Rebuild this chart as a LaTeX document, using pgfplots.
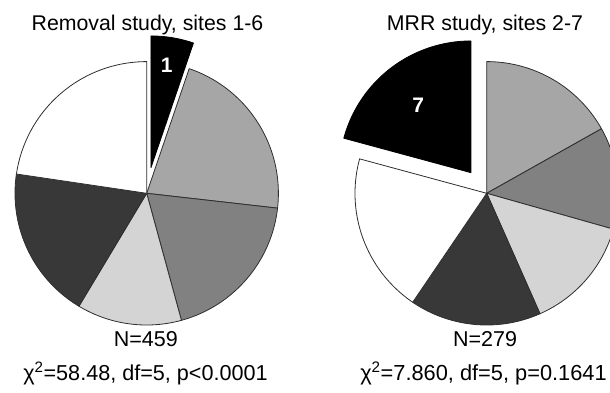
\documentclass[border=0pt]{standalone}
\usepackage{pgfplots}
\pgfplotsset{compat=1.18}
\usepackage{fontspec}
\setmainfont{Liberation Sans}

% shades for the sites
\definecolor{siteone}{HTML}{000000}
\definecolor{sitetwo}{HTML}{A6A6A6}
\definecolor{sitethree}{HTML}{818181}
\definecolor{sitefour}{HTML}{D4D4D4}
\definecolor{sitefive}{HTML}{383838}
\definecolor{sitesix}{HTML}{FFFFFF}
\definecolor{siteseven}{HTML}{000000}
\definecolor{edge}{HTML}{2E2E2E}

\newcommand{\R}{131.7}

% \slice{cx}{cy}{total}{count before}{count}{fill}{explode}{edge colour}
% slices run clockwise from 12 o'clock
\newcommand{\slice}[8]{%
  \pgfmathsetmacro\step{360/#3}%
  \pgfmathsetmacro\sa{90-\step*(#4+#5)}%
  \pgfmathsetmacro\sb{90-\step*#4}%
  \pgfmathsetmacro\sm{(\sa+\sb)/2}%
  \pgfmathsetmacro\ox{#1+#7*cos(\sm)}%
  \pgfmathsetmacro\oy{#2+#7*sin(\sm)}%
  \edef\doslice{\noexpand\addplot[fill=#6, draw=#8, line width=0.8pt,
      line join=round, domain=\sa:\sb, samples=90, variable=\noexpand\t]
    ({\ox+\R*cos(\noexpand\t)}, {\oy+\R*sin(\noexpand\t)})
    -- (axis cs:\ox,\oy) -- cycle;}%
  \doslice
}

\begin{document}
\begin{tikzpicture}
\begin{axis}[
  width=610pt, height=392pt, scale only axis,
  xmin=0, xmax=610, ymin=0, ymax=392,
  hide axis, clip=true,
]
% Removal study, sites 1-6 (N = 459)
\slice{146.7}{198.7}{459}{0}{24}{siteone}{26}{black}
\slice{146.7}{198.7}{459}{24}{99}{sitetwo}{0}{edge}
\slice{146.7}{198.7}{459}{123}{87}{sitethree}{0}{edge}
\slice{146.7}{198.7}{459}{210}{59}{sitefour}{0}{edge}
\slice{146.7}{198.7}{459}{269}{86}{sitefive}{0}{edge}
\slice{146.7}{198.7}{459}{355}{104}{sitesix}{0}{edge}

% MRR study, sites 2-7 (N = 279)
\slice{486.7}{198.7}{279}{0}{47}{sitetwo}{0}{edge}
\slice{486.7}{198.7}{279}{47}{35}{sitethree}{0}{edge}
\slice{486.7}{198.7}{279}{82}{39}{sitefour}{0}{edge}
\slice{486.7}{198.7}{279}{121}{45}{sitefive}{0}{edge}
\slice{486.7}{198.7}{279}{166}{55}{sitesix}{0}{edge}
\slice{486.7}{198.7}{279}{221}{58}{siteseven}{26}{black}

\node[anchor=center, text=white, font=\fontsize{21}{24}\bfseries\selectfont]
  at (axis cs:166.7,327) {1};
\node[anchor=center, text=white, font=\fontsize{21}{24}\bfseries\selectfont]
  at (axis cs:418.3,287) {7};

\node[anchor=base, font=\fontsize{21.3}{24}\selectfont]
  at (axis cs:147.5,361) {Removal study, sites 1-6};
\node[anchor=base, font=\fontsize{21.3}{24}\selectfont]
  at (axis cs:485,361) {MRR study, sites 2-7};

\node[anchor=base, font=\fontsize{21.5}{24}\selectfont]
  at (axis cs:145.8,45.3) {N=459};
\node[anchor=base, font=\fontsize{21.5}{24}\selectfont]
  at (axis cs:485,45.3) {N=279};

\node[anchor=base, font=\fontsize{21.6}{24}\selectfont]
  at (axis cs:145.5,12) {χ\textsuperscript{2}=58.48, df=5, p<0.0001};
\node[anchor=base, font=\fontsize{21.8}{24}\selectfont]
  at (axis cs:483.5,12) {χ\textsuperscript{2}=7.860, df=5, p=0.1641};
\end{axis}
\pgfresetboundingbox
\path[use as bounding box] (current axis.south west) rectangle (current axis.north east);
\end{tikzpicture}
\end{document}
